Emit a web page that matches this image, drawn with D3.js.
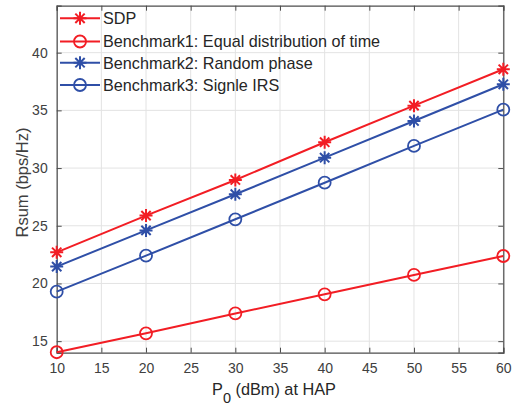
<!DOCTYPE html>
<html><head><meta charset="utf-8">
<script src="https://cdn.jsdelivr.net/npm/d3@7"></script>
<style>body{margin:0;background:#fff;}svg{display:block;font-family:"Liberation Sans",Arial,sans-serif;}</style>
</head><body>
<svg id="chart" width="516" height="406"></svg>
<script>
const xValues = [10, 20, 30, 40, 50, 60];
const sdp = [22.7, 25.88, 28.97, 32.24, 35.41, 38.56];
const bench1 = [14.04, 15.68, 17.4, 19.06, 20.74, 22.38];
const bench2 = [21.46, 24.6, 27.73, 30.9, 34.08, 37.26];
const bench3 = [19.29, 22.41, 25.56, 28.73, 31.92, 35.06];
const seriesNames = ["SDP", "Benchmark1: Equal distribution of time", "Benchmark2: Random phase", "Benchmark3: Signle IRS"];
const xTicks = [10, 15, 20, 25, 30, 35, 40, 45, 50, 55, 60];
const yTicks = [15, 20, 25, 30, 35, 40];

const RED = "#f21d24", BLUE = "#2f4fa7";
const series = [
  {name: seriesNames[0], values: sdp, color: RED, marker: "star"},
  {name: seriesNames[1], values: bench1, color: RED, marker: "circle"},
  {name: seriesNames[2], values: bench2, color: BLUE, marker: "star"},
  {name: seriesNames[3], values: bench3, color: BLUE, marker: "circle"}
];

const svg = d3.select("#chart");
const L = 56.7, R = 503.3, T = 5.7, B = 352.7;
const x = d3.scaleLinear().domain([10, 60]).range([L, R]);
const y = d3.scaleLinear().domain([14, 44.07]).range([B, T]);

// grid
const g = svg.append("g");
g.selectAll(".gx").data(xTicks).join("line")
  .attr("x1", d => x(d)).attr("x2", d => x(d)).attr("y1", T).attr("y2", B)
  .attr("stroke", "#e3e3e3").attr("stroke-width", 1);
g.selectAll(".gy").data(yTicks).join("line")
  .attr("x1", L).attr("x2", R).attr("y1", d => y(d)).attr("y2", d => y(d))
  .attr("stroke", "#e3e3e3").attr("stroke-width", 1);

// axes
const axisColor = "#4d4d4d";
const xAxis = svg.append("g").attr("transform", `translate(0,${B})`)
  .call(d3.axisBottom(x).tickValues(xTicks).tickSize(-5).tickPadding(10).tickFormat(d3.format("d")));
const xTop = svg.append("g").attr("transform", `translate(0,${T})`)
  .call(d3.axisTop(x).tickValues(xTicks).tickSize(-5).tickFormat(""));
const yAxis = svg.append("g").attr("transform", `translate(${L},0)`)
  .call(d3.axisLeft(y).tickValues(yTicks).tickSize(-5).tickPadding(9).tickFormat(d3.format("d")));
const yRight = svg.append("g").attr("transform", `translate(${R},0)`)
  .call(d3.axisRight(y).tickValues(yTicks).tickSize(-5).tickFormat(""));
[xAxis, xTop, yAxis, yRight].forEach(a => {
  a.select(".domain").attr("stroke", axisColor).attr("stroke-width", 1.2);
  a.selectAll(".tick line").attr("stroke", axisColor).attr("stroke-width", 1);
  a.selectAll(".tick text").attr("fill", "#404040").attr("font-size", 14)
    .attr("font-family", '"Liberation Sans",Arial,sans-serif');
});

// lines and markers
const line = d3.line().x((d, i) => x(xValues[i])).y(d => y(d));
function drawMarker(sel, type, color, cx, cy, r) {
  if (type === "circle") {
    sel.append("circle").attr("cx", cx).attr("cy", cy).attr("r", r)
      .attr("fill", "none").attr("stroke", color).attr("stroke-width", 1.8);
  } else {
    const s = r + 0.5;
    const p = `M${cx - s},${cy}L${cx + s},${cy}M${cx},${cy - s}L${cx},${cy + s}` +
      `M${cx - s * 0.72},${cy - s * 0.72}L${cx + s * 0.72},${cy + s * 0.72}` +
      `M${cx - s * 0.72},${cy + s * 0.72}L${cx + s * 0.72},${cy - s * 0.72}`;
    sel.append("path").attr("d", p).attr("stroke", color).attr("stroke-width", 2).attr("fill", "none");
  }
}
series.forEach(s => {
  svg.append("path").datum(s.values).attr("d", line)
    .attr("fill", "none").attr("stroke", s.color).attr("stroke-width", 2);
  const mg = svg.append("g");
  s.values.forEach((v, i) => drawMarker(mg, s.marker, s.color, x(xValues[i]), y(v), 6));
});

// legend
const leg = svg.append("g");
const rowY = [18.3, 41.5, 62.7, 85];
series.forEach((s, i) => {
  const yy = rowY[i];
  leg.append("line").attr("x1", 60).attr("x2", 100).attr("y1", yy).attr("y2", yy)
    .attr("stroke", s.color).attr("stroke-width", 2);
  drawMarker(leg, s.marker, s.color, 80, yy, 6);
  leg.append("text").attr("x", 103).attr("y", yy + 5.8).attr("font-size", 16.2)
    .attr("fill", "#262626").text(s.name);
});

// axis labels
const xl = svg.append("text").attr("x", 274).attr("y", 394.5).attr("text-anchor", "middle")
  .attr("font-size", 16.3).attr("fill", "#262626");
xl.append("tspan").text("P");
xl.append("tspan").attr("dy", 8).attr("font-size", 14.5).text("0");
xl.append("tspan").attr("dy", -8).text(" (dBm) at HAP");

svg.append("text").attr("transform", "translate(27.5,182.5) rotate(-90)")
  .attr("text-anchor", "middle").attr("font-size", 16.5).attr("fill", "#404040")
  .text("Rsum (bps/Hz)");
</script>
</body></html>
